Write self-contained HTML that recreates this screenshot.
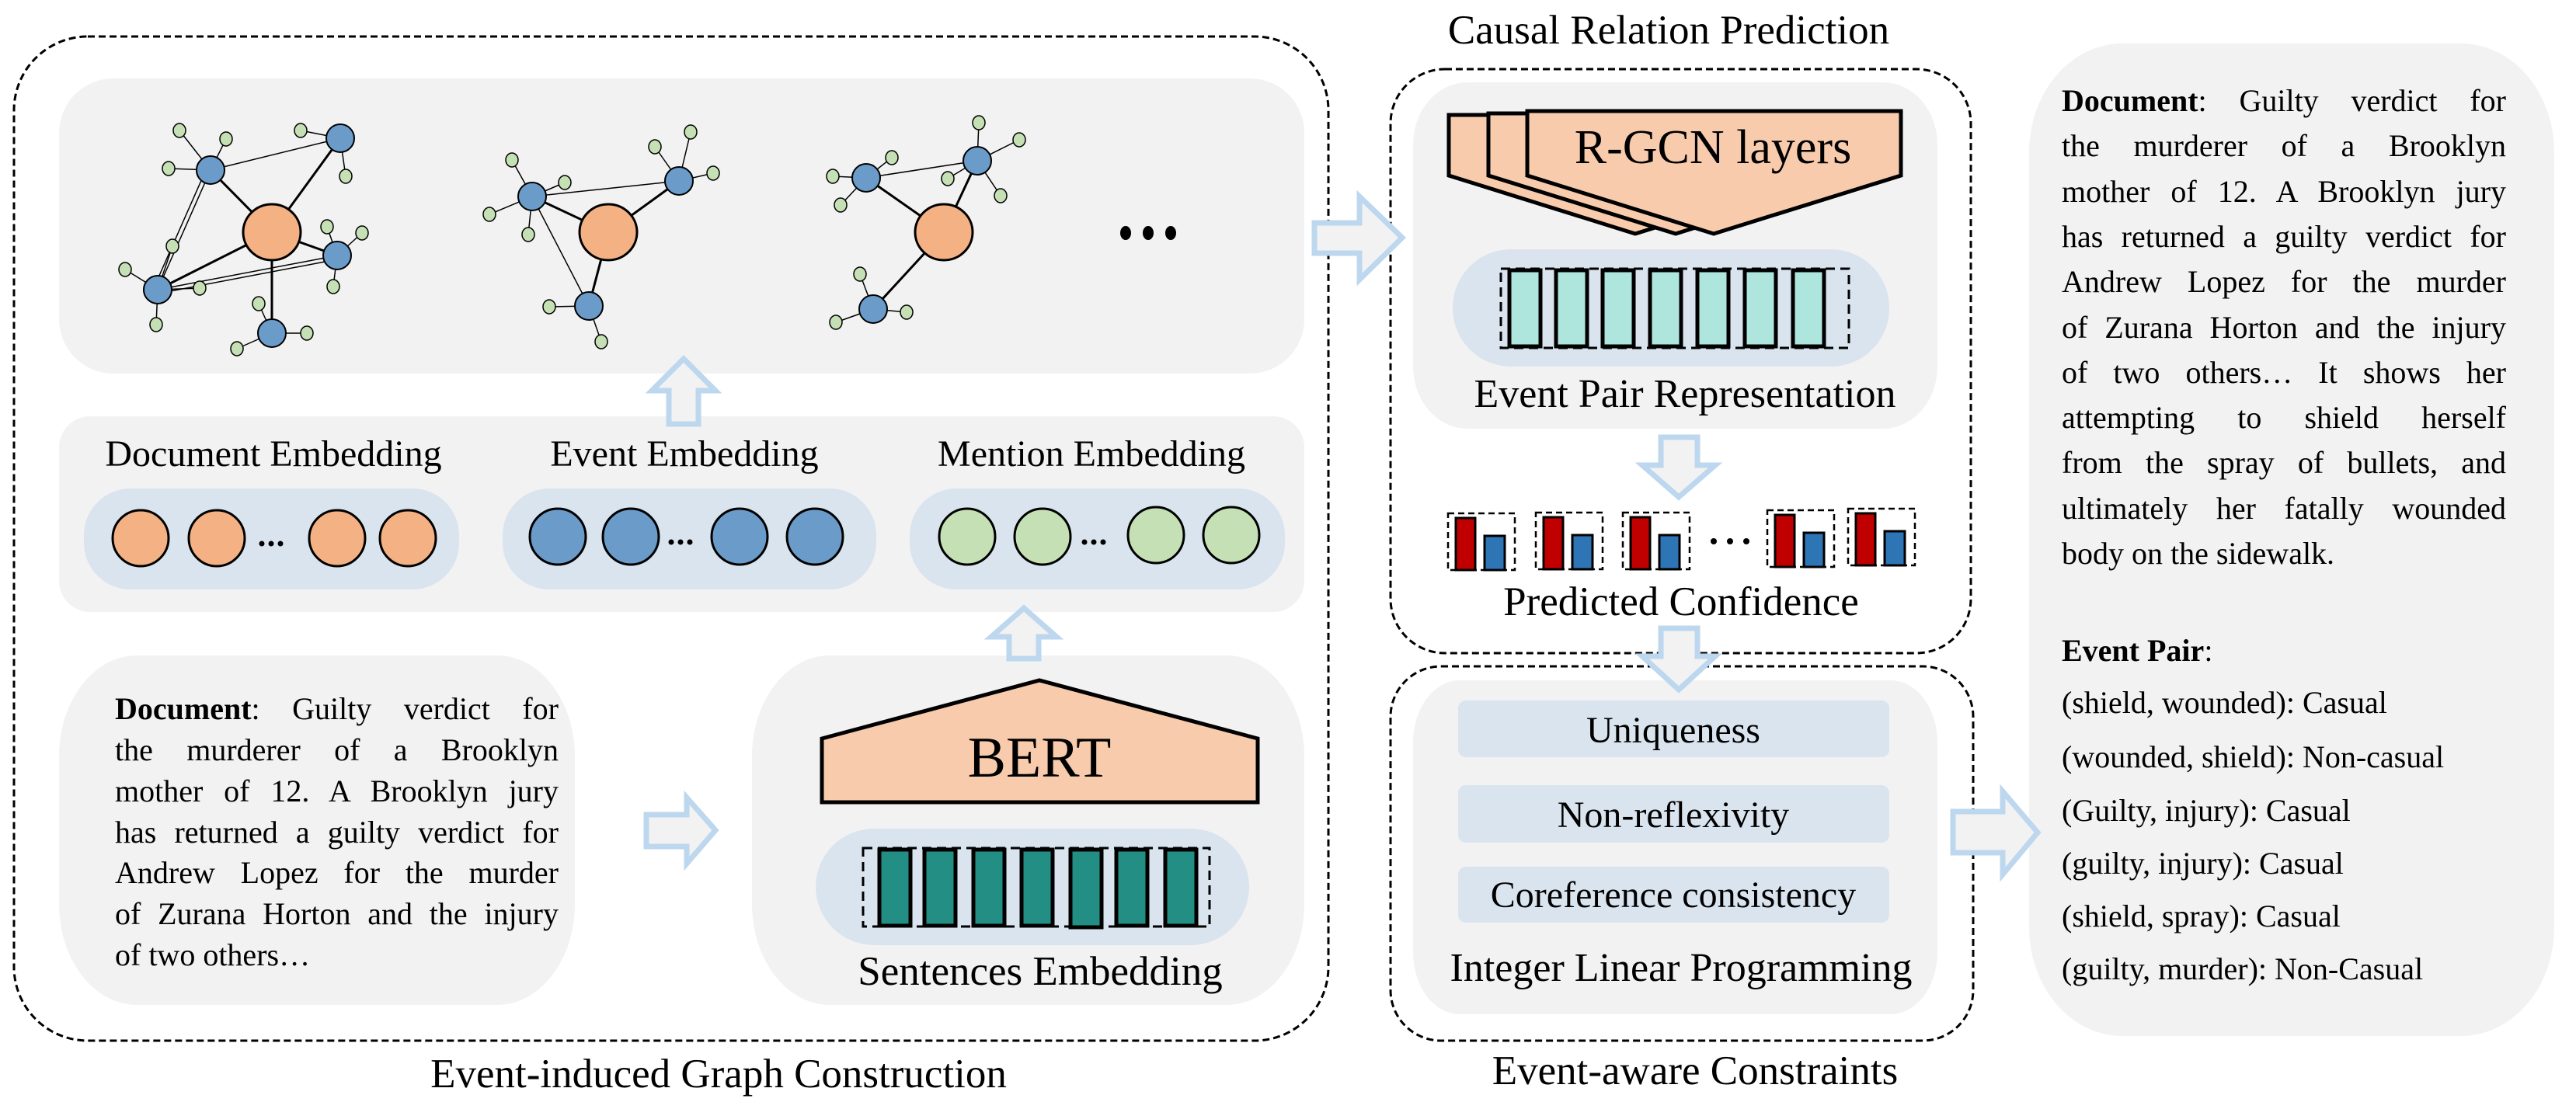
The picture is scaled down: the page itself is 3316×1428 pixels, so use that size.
<!DOCTYPE html>
<html><head><meta charset="utf-8">
<style>
html,body{margin:0;padding:0;background:#fff;}
body{width:3316px;height:1428px;position:relative;overflow:hidden;font-family:"Liberation Serif",serif;}
svg{position:absolute;left:0;top:0;}
.l{position:absolute;font-size:40px;line-height:40px;white-space:nowrap;color:#000;}
.j{text-align:justify;text-align-last:justify;white-space:normal;}
</style></head><body>
<svg width="3316" height="1428" viewBox="0 0 3316 1428" font-family="Liberation Serif, serif">
<g fill="none" stroke="#000" stroke-width="3" stroke-dasharray="9 5">
<rect x="18" y="47" width="1692" height="1293" rx="95" ry="95"/>
<rect x="1790" y="89" width="747" height="752" rx="70" ry="70"/>
<rect x="1790" y="858" width="750" height="482" rx="65" ry="65"/>
</g>
<g fill="#f2f2f2">
<rect x="76" y="101" width="1603" height="380" rx="70" ry="70"/>
<rect x="76" y="536" width="1603" height="252" rx="40" ry="40"/>
<rect x="76" y="844" width="664" height="450" rx="100" ry="130"/>
<rect x="968" y="844" width="711" height="450" rx="100" ry="130"/>
<rect x="1819" y="106" width="675" height="446" rx="70" ry="80"/>
<rect x="1819" y="876" width="675" height="430" rx="60" ry="80"/>
<rect x="2612" y="56" width="676" height="1278" rx="120" ry="140"/>
</g>
<g fill="#dae4ef">
<rect x="108" y="629" width="483" height="130" rx="60" ry="60"/>
<rect x="647" y="629" width="481" height="130" rx="60" ry="60"/>
<rect x="1171" y="629" width="483" height="130" rx="60" ry="60"/>
<rect x="1050" y="1067" width="558" height="150" rx="75" ry="75"/>
<rect x="1870" y="321" width="562" height="151" rx="75" ry="75"/>
<rect x="1877" y="902" width="555" height="73" rx="10"/>
<rect x="1877" y="1011" width="555" height="74" rx="10"/>
<rect x="1877" y="1116" width="555" height="72" rx="10"/>
</g>

<g stroke="#000" fill="none">
<g stroke-width="1.5">
<line x1="271" y1="219" x2="438" y2="178"/>
<line x1="271" y1="219" x2="203" y2="373"/><line x1="265" y1="219" x2="197" y2="373"/>
<line x1="203" y1="373" x2="434" y2="329"/><line x1="203" y1="378" x2="434" y2="334"/>
<line x1="271" y1="219" x2="231" y2="168"/><line x1="271" y1="219" x2="291" y2="179"/><line x1="271" y1="219" x2="217" y2="217"/>
<line x1="438" y1="178" x2="387" y2="168"/><line x1="438" y1="178" x2="445" y2="227"/>
<line x1="434" y1="329" x2="421" y2="292"/><line x1="434" y1="329" x2="466" y2="300"/><line x1="434" y1="329" x2="429" y2="369"/>
<line x1="203" y1="373" x2="222" y2="317"/><line x1="203" y1="373" x2="161" y2="347"/><line x1="203" y1="373" x2="257" y2="371"/><line x1="203" y1="373" x2="201" y2="418"/>
<line x1="350" y1="429" x2="333" y2="391"/><line x1="350" y1="429" x2="395" y2="429"/><line x1="350" y1="429" x2="305" y2="449"/>
</g>
<g stroke-width="3">
<line x1="271" y1="219" x2="350" y2="299"/><line x1="438" y1="178" x2="350" y2="299"/>
<line x1="203" y1="373" x2="350" y2="299"/><line x1="434" y1="329" x2="350" y2="299"/><line x1="350" y1="299" x2="350" y2="429"/>
</g>
<g stroke-width="1.5">
<line x1="685" y1="253" x2="874" y2="233"/><line x1="685" y1="253" x2="758" y2="394"/>
<line x1="685" y1="253" x2="659" y2="206"/><line x1="685" y1="253" x2="727" y2="235"/><line x1="685" y1="253" x2="630" y2="276"/><line x1="685" y1="253" x2="680" y2="302"/>
<line x1="874" y1="233" x2="843" y2="189"/><line x1="874" y1="233" x2="889" y2="170"/><line x1="874" y1="233" x2="918" y2="223"/>
<line x1="758" y1="394" x2="707" y2="395"/><line x1="758" y1="394" x2="774" y2="440"/>
</g>
<g stroke-width="3">
<line x1="685" y1="253" x2="783" y2="299"/><line x1="874" y1="233" x2="783" y2="299"/><line x1="758" y1="394" x2="783" y2="299"/>
</g>
<g stroke-width="1.5">
<line x1="1115" y1="229" x2="1258" y2="207"/>
<line x1="1115" y1="229" x2="1148" y2="203"/><line x1="1115" y1="229" x2="1072" y2="227"/><line x1="1115" y1="229" x2="1082" y2="264"/>
<line x1="1258" y1="207" x2="1260" y2="158"/><line x1="1258" y1="207" x2="1312" y2="180"/><line x1="1258" y1="207" x2="1220" y2="230"/><line x1="1258" y1="207" x2="1288" y2="252"/>
<line x1="1124" y1="398" x2="1107" y2="353"/><line x1="1124" y1="398" x2="1076" y2="415"/><line x1="1124" y1="398" x2="1167" y2="402"/>
</g>
<g stroke-width="3">
<line x1="1115" y1="229" x2="1215" y2="299"/><line x1="1258" y1="207" x2="1215" y2="299"/><line x1="1124" y1="398" x2="1215" y2="299"/>
</g>
</g>
<g stroke="#000" stroke-width="1.5" fill="#c5e0b4">
<ellipse cx="231" cy="168" rx="8" ry="9"/><ellipse cx="291" cy="179" rx="8" ry="9"/><ellipse cx="217" cy="217" rx="8" ry="9"/>
<ellipse cx="387" cy="168" rx="8" ry="9"/><ellipse cx="445" cy="227" rx="8" ry="9"/><ellipse cx="421" cy="292" rx="8" ry="9"/>
<ellipse cx="466" cy="300" rx="8" ry="9"/><ellipse cx="429" cy="369" rx="8" ry="9"/><ellipse cx="222" cy="317" rx="8" ry="9"/>
<ellipse cx="161" cy="347" rx="8" ry="9"/><ellipse cx="257" cy="371" rx="8" ry="9"/><ellipse cx="201" cy="418" rx="8" ry="9"/>
<ellipse cx="333" cy="391" rx="8" ry="9"/><ellipse cx="395" cy="429" rx="8" ry="9"/><ellipse cx="305" cy="449" rx="8" ry="9"/>
<ellipse cx="659" cy="206" rx="8" ry="9"/><ellipse cx="727" cy="235" rx="8" ry="9"/><ellipse cx="630" cy="276" rx="8" ry="9"/>
<ellipse cx="680" cy="302" rx="8" ry="9"/><ellipse cx="843" cy="189" rx="8" ry="9"/><ellipse cx="889" cy="170" rx="8" ry="9"/>
<ellipse cx="918" cy="223" rx="8" ry="9"/><ellipse cx="707" cy="395" rx="8" ry="9"/><ellipse cx="774" cy="440" rx="8" ry="9"/>
<ellipse cx="1148" cy="203" rx="8" ry="9"/><ellipse cx="1072" cy="227" rx="8" ry="9"/><ellipse cx="1082" cy="264" rx="8" ry="9"/>
<ellipse cx="1260" cy="158" rx="8" ry="9"/><ellipse cx="1312" cy="180" rx="8" ry="9"/><ellipse cx="1220" cy="230" rx="8" ry="9"/>
<ellipse cx="1288" cy="252" rx="8" ry="9"/><ellipse cx="1107" cy="353" rx="8" ry="9"/><ellipse cx="1076" cy="415" rx="8" ry="9"/>
<ellipse cx="1167" cy="402" rx="8" ry="9"/>
</g>
<g stroke="#000" stroke-width="2" fill="#6a9bc9">
<ellipse cx="271" cy="219" rx="18" ry="18"/><ellipse cx="438" cy="178" rx="18" ry="18"/><ellipse cx="434" cy="329" rx="18" ry="18"/>
<ellipse cx="203" cy="373" rx="18" ry="18"/><ellipse cx="350" cy="429" rx="18" ry="18"/>
<ellipse cx="685" cy="253" rx="18" ry="18"/><ellipse cx="874" cy="233" rx="18" ry="18"/><ellipse cx="758" cy="394" rx="18" ry="18"/>
<ellipse cx="1115" cy="229" rx="18" ry="18"/><ellipse cx="1258" cy="207" rx="18" ry="18"/><ellipse cx="1124" cy="398" rx="18" ry="18"/>
</g>
<g stroke="#000" stroke-width="3" fill="#f4b183">
<ellipse cx="350" cy="299" rx="37" ry="36"/><ellipse cx="783" cy="299" rx="37" ry="36"/><ellipse cx="1215" cy="299" rx="37" ry="36"/>
</g>
<g fill="#000"><ellipse cx="1449" cy="300" rx="7" ry="9"/><ellipse cx="1478" cy="300" rx="7" ry="9"/><ellipse cx="1507" cy="300" rx="7" ry="9"/></g>

<g stroke="#000" stroke-width="3">
<g fill="#f4b183"><ellipse cx="181" cy="693" rx="36" ry="36"/><ellipse cx="279" cy="693" rx="36" ry="36"/><ellipse cx="434" cy="693" rx="36" ry="36"/><ellipse cx="525" cy="693" rx="36" ry="36"/></g>
<g fill="#6a9bc9"><ellipse cx="718" cy="691" rx="36" ry="36"/><ellipse cx="812" cy="691" rx="36" ry="36"/><ellipse cx="952" cy="691" rx="36" ry="36"/><ellipse cx="1049" cy="691" rx="36" ry="36"/></g>
<g fill="#c5e0b4"><ellipse cx="1245" cy="691" rx="36" ry="36"/><ellipse cx="1342" cy="691" rx="36" ry="36"/><ellipse cx="1488" cy="689" rx="36" ry="36"/><ellipse cx="1585" cy="689" rx="36" ry="36"/></g>
</g>
<g fill="#000">
<circle cx="337" cy="700" r="3.5"/><circle cx="349" cy="700" r="3.5"/><circle cx="361" cy="700" r="3.5"/>
<circle cx="864" cy="698" r="3.5"/><circle cx="876" cy="698" r="3.5"/><circle cx="888" cy="698" r="3.5"/>
<circle cx="1396" cy="698" r="3.5"/><circle cx="1408" cy="698" r="3.5"/><circle cx="1420" cy="698" r="3.5"/>
</g>

<polygon points="1058,951 1338,876 1619,951 1619,1033 1058,1033" fill="#f8cbad" stroke="#000" stroke-width="5"/>
<g fill="#238e84" stroke="#000" stroke-width="5">
<rect x="1132" y="1094" width="40" height="98"/><rect x="1190" y="1094" width="40" height="98"/><rect x="1253" y="1094" width="40" height="98"/>
<rect x="1315" y="1094" width="40" height="98"/><rect x="1378" y="1094" width="40" height="100"/><rect x="1437" y="1094" width="40" height="98"/>
<rect x="1500" y="1094" width="40" height="98"/>
</g>
<rect x="1111" y="1092" width="446" height="101" fill="none" stroke="#000" stroke-width="3" stroke-dasharray="12 7"/>

<g fill="#f8cbad" stroke="#000" stroke-width="5" stroke-linejoin="miter">
<polygon points="1865,148 2346,148 2346,226 2105,301 1865,226"/>
<polygon points="1916,146 2397,146 2397,226 2157,301 1916,226"/>
<polygon points="1966,143 2447,143 2447,226 2206,301 1966,226"/>
</g>
<g fill="#aee6de" stroke="#000" stroke-width="5">
<rect x="1943" y="348" width="40" height="98"/><rect x="2003" y="348" width="40" height="98"/><rect x="2063" y="348" width="40" height="98"/>
<rect x="2124" y="348" width="40" height="98"/><rect x="2185" y="348" width="40" height="98"/><rect x="2246" y="348" width="40" height="98"/>
<rect x="2308" y="348" width="40" height="98"/>
</g>
<rect x="1932" y="346" width="448" height="102" fill="none" stroke="#000" stroke-width="3" stroke-dasharray="12 7"/>

<g>
<g transform="translate(1864,661)"><rect x="0" y="0" width="86" height="73" fill="none" stroke="#000" stroke-width="2.5" stroke-dasharray="8 5"/><rect x="10" y="6" width="25" height="67" fill="#c00000" stroke="#000" stroke-width="3"/><rect x="47" y="29" width="26" height="44" fill="#2e75b6" stroke="#000" stroke-width="3"/></g>
<g transform="translate(1977,660)"><rect x="0" y="0" width="86" height="73" fill="none" stroke="#000" stroke-width="2.5" stroke-dasharray="8 5"/><rect x="10" y="6" width="25" height="67" fill="#c00000" stroke="#000" stroke-width="3"/><rect x="47" y="29" width="26" height="44" fill="#2e75b6" stroke="#000" stroke-width="3"/></g>
<g transform="translate(2089,660)"><rect x="0" y="0" width="86" height="73" fill="none" stroke="#000" stroke-width="2.5" stroke-dasharray="8 5"/><rect x="10" y="6" width="25" height="67" fill="#c00000" stroke="#000" stroke-width="3"/><rect x="47" y="29" width="26" height="44" fill="#2e75b6" stroke="#000" stroke-width="3"/></g>
<g transform="translate(2275,657)"><rect x="0" y="0" width="86" height="73" fill="none" stroke="#000" stroke-width="2.5" stroke-dasharray="8 5"/><rect x="10" y="6" width="25" height="67" fill="#c00000" stroke="#000" stroke-width="3"/><rect x="47" y="29" width="26" height="44" fill="#2e75b6" stroke="#000" stroke-width="3"/></g>
<g transform="translate(2379,655)"><rect x="0" y="0" width="86" height="73" fill="none" stroke="#000" stroke-width="2.5" stroke-dasharray="8 5"/><rect x="10" y="6" width="25" height="67" fill="#c00000" stroke="#000" stroke-width="3"/><rect x="47" y="29" width="26" height="44" fill="#2e75b6" stroke="#000" stroke-width="3"/></g>
<circle cx="2206" cy="697" r="4"/><circle cx="2227" cy="697" r="4"/><circle cx="2248" cy="697" r="4"/>
</g>

<g fill="#f2f2f2" stroke="#bdd7ee" stroke-width="7" stroke-linejoin="miter">
<polygon points="880,462 921,503 899,503 899,546 861,546 861,503 839,503"/>
<polygon points="1318,783 1360,820 1337,820 1337,848 1299,848 1299,820 1276,820"/>
<polygon points="832,1049 884,1049 884,1027 921,1069 884,1112 884,1090 832,1090"/>
<polygon points="1692,287 1750,287 1750,253 1805,306 1750,360 1750,326 1692,326"/>
<polygon points="2138,563 2185,563 2185,599 2208,599 2161,640 2114,599 2138,599"/>
<polygon points="2138,809 2185,809 2185,845 2208,845 2161,888 2114,845 2138,845"/>
<polygon points="2514,1045 2578,1045 2578,1019 2623,1072 2578,1126 2578,1098 2514,1098"/>
</g>

<g font-size="48" text-anchor="middle" fill="#000">
<text x="352" y="600">Document Embedding</text>
<text x="881" y="600">Event Embedding</text>
<text x="1405" y="600">Mention Embedding</text>
<text x="1339" y="1268" font-size="53">Sentences Embedding</text>
<text x="925" y="1400" font-size="53">Event-induced Graph Construction</text>
<text x="2148" y="56" font-size="53">Causal Relation Prediction</text>
<text x="2169" y="524" font-size="52">Event Pair Representation</text>
<text x="2164" y="792" font-size="53">Predicted Confidence</text>
<text x="2164" y="1263" font-size="52">Integer Linear Programming</text>
<text x="2182" y="1396" font-size="53">Event-aware Constraints</text>
<text x="2205" y="210" font-size="62">R-GCN layers</text>
<text x="1338" y="1000" font-size="74">BERT</text>
</g>
<g font-size="48" text-anchor="middle">
<text x="2154" y="956">Uniqueness</text>
<text x="2154" y="1065">Non-reflexivity</text>
<text x="2154" y="1168">Coreference consistency</text>
</g>
</svg>

<div class="l j" style="left:148px;top:893px;width:571px"><b>Document</b>: Guilty verdict for</div>
<div class="l j" style="left:148px;top:946px;width:571px">the murderer of a Brooklyn</div>
<div class="l j" style="left:148px;top:999px;width:571px">mother of 12. A Brooklyn jury</div>
<div class="l j" style="left:148px;top:1052px;width:571px">has returned a guilty verdict for</div>
<div class="l j" style="left:148px;top:1104px;width:571px">Andrew Lopez for the murder</div>
<div class="l j" style="left:148px;top:1157px;width:571px">of Zurana Horton and the injury</div>
<div class="l" style="left:148px;top:1210px;">of two others…</div>

<div class="l j" style="left:2654px;top:110px;width:572px"><b>Document</b>: Guilty verdict for</div>
<div class="l j" style="left:2654px;top:168px;width:572px">the murderer of a Brooklyn</div>
<div class="l j" style="left:2654px;top:227px;width:572px">mother of 12. A Brooklyn jury</div>
<div class="l j" style="left:2654px;top:285px;width:572px">has returned a guilty verdict for</div>
<div class="l j" style="left:2654px;top:343px;width:572px">Andrew Lopez for the murder</div>
<div class="l j" style="left:2654px;top:402px;width:572px">of Zurana Horton and the injury</div>
<div class="l j" style="left:2654px;top:460px;width:572px">of two others… It shows her</div>
<div class="l j" style="left:2654px;top:518px;width:572px">attempting to shield herself</div>
<div class="l j" style="left:2654px;top:576px;width:572px">from the spray of bullets, and</div>
<div class="l j" style="left:2654px;top:635px;width:572px">ultimately her fatally wounded</div>
<div class="l" style="left:2654px;top:693px;">body on the sidewalk.</div>

<div class="l" style="left:2654px;top:818px;"><b>Event Pair</b>:</div>
<div class="l" style="left:2654px;top:885px;">(shield, wounded): Casual</div>
<div class="l" style="left:2654px;top:955px;">(wounded, shield): Non-casual</div>
<div class="l" style="left:2654px;top:1024px;">(Guilty, injury): Casual</div>
<div class="l" style="left:2654px;top:1092px;">(guilty, injury): Casual</div>
<div class="l" style="left:2654px;top:1160px;">(shield, spray): Casual</div>
<div class="l" style="left:2654px;top:1228px;">(guilty, murder): Non-Casual</div>
</body></html>
